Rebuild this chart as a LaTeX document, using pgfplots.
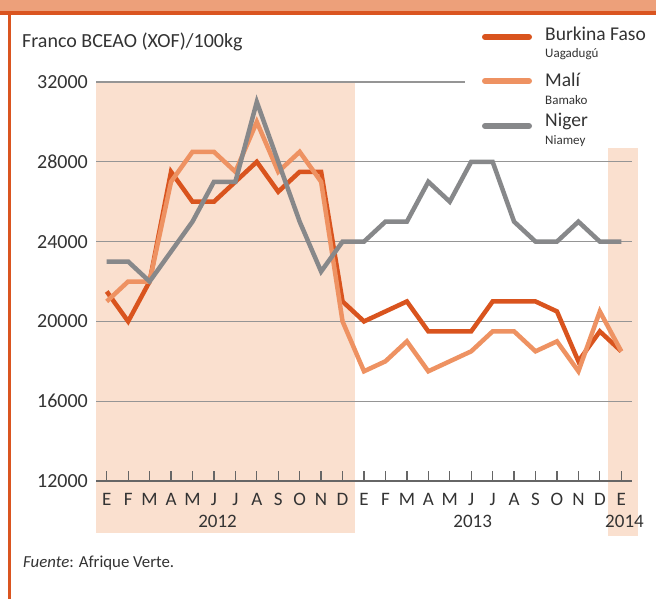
\documentclass[border=0pt]{standalone}
\usepackage{fontspec}
\setmainfont{Carlito}
\usepackage{pgfplots}
\pgfplotsset{compat=1.18}
\definecolor{bf}{HTML}{D9541E}
\definecolor{ml}{HTML}{EE9262}
\definecolor{ng}{HTML}{87888A}
\definecolor{peach}{HTML}{FAE0CF}
\definecolor{band}{HTML}{EDA07A}
\definecolor{bandline}{HTML}{DA5520}
\definecolor{txt}{HTML}{333333}
\definecolor{gridc}{HTML}{959595}
\definecolor{axc}{HTML}{666666}
\begin{document}
\begin{tikzpicture}
\useasboundingbox (0pt,0pt) rectangle (656pt,-599pt);
\fill[white] (0pt,0pt) rectangle (656pt,-599pt);
\fill[band] (0pt,0pt) rectangle (656pt,-11pt);
\fill[bandline] (0pt,-11pt) rectangle (656pt,-15.5pt);
\fill[bandline] (7.5pt,-11pt) rectangle (10.5pt,-599pt);
\begin{axis}[
  at={(96pt,-481pt)}, anchor=south west,
  scale only axis, width=536pt, height=399pt,
  xmin=-0.5, xmax=24.5, ymin=12000, ymax=32000,
  axis line style={draw=none},
  clip=false, axis on top,
  xtick={0,...,24},
  xticklabels={E,F,M,A,M,J,J,A,S,O,N,D,E,F,M,A,M,J,J,A,S,O,N,D,E},
  tick pos=left, tick align=inside, major tick length=10pt,
  xtick style={draw=axc, line width=1.3pt},
  ytick={12000,16000,20000,24000,28000,32000}, ytick style={draw=none},
  scaled y ticks=false,
  /pgf/number format/assume math mode=true, /pgf/number format/1000 sep={},
  yticklabel style={font=\fontsize{20}{20}\selectfont, text=txt, anchor=east, inner sep=0pt, xshift=-8pt},
  xticklabel style={font=\fontsize{19}{19}\selectfont, text=txt, anchor=base, inner sep=0pt, yshift=-24pt},
]
\fill[peach] (axis cs:-0.5,9390) rectangle (axis cs:11.58,32000);
\fill[peach] (axis cs:23.37,9250) rectangle (axis cs:24.8,32000);
\draw[gridc, line width=1.3pt] (axis cs:-0.5,16000) -- (axis cs:24.5,16000);
\draw[gridc, line width=1.3pt] (axis cs:-0.5,20000) -- (axis cs:24.5,20000);
\draw[gridc, line width=1.3pt] (axis cs:-0.5,24000) -- (axis cs:24.5,24000);
\draw[gridc, line width=1.3pt] (axis cs:-0.5,28000) -- (axis cs:24.5,28000);
\draw[gridc, line width=1.3pt] (axis cs:-0.5,32000) -- (axis cs:24.5,32000);
\draw[axc, line width=2pt] (axis cs:-0.5,12000) -- (axis cs:24.5,12000);
\addplot[bf, line width=4.5pt] coordinates {
(0,21500) (1,20000) (2,22000) (3,27500) (4,26000) (5,26000) (6,27000) (7,28000) (8,26500) (9,27500) (10,27500) (11,21000)
(12,20000) (13,20500) (14,21000) (15,19500) (16,19500) (17,19500) (18,21000) (19,21000) (20,21000) (21,20500) (22,18000) (23,19500) (24,18500)};
\addplot[ml, line width=4.5pt] coordinates {
(0,21000) (1,22000) (2,22000) (3,27000) (4,28500) (5,28500) (6,27500) (7,30000) (8,27500) (9,28500) (10,27000) (11,20000)
(12,17500) (13,18000) (14,19000) (15,17500) (16,18000) (17,18500) (18,19500) (19,19500) (20,18500) (21,19000) (22,17500) (23,20500) (24,18500)};
\addplot[ng, line width=4.5pt] coordinates {
(0,23000) (1,23000) (2,22000) (3,23500) (4,25000) (5,27000) (6,27000) (7,31000) (8,28000) (9,25000) (10,22500) (11,24000)
(12,24000) (13,25000) (14,25000) (15,27000) (16,26000) (17,28000) (18,28000) (19,25000) (20,24000) (21,24000) (22,25000) (23,24000) (24,24000)};
\node[anchor=base, inner sep=0pt, font=\fontsize{19}{19}\selectfont, text=txt] at (axis cs:5.17,9694) {2012};
\node[anchor=base, inner sep=0pt, font=\fontsize{19}{19}\selectfont, text=txt] at (axis cs:17.07,9694) {2013};
\node[anchor=base, inner sep=0pt, font=\fontsize{19}{19}\selectfont, text=txt] at (axis cs:24.15,9694) {2014};
\end{axis}
\fill[white] (465pt,-15.5pt) rectangle (637.7pt,-148pt);
\node[anchor=base west, inner sep=0pt, font=\fontsize{20}{20}\selectfont, text=txt] at (22pt,-48pt) {Franco BCEAO (XOF)/100kg};
\draw[bf, line width=6pt, line cap=round] (485pt,-37pt) -- (529pt,-37pt);
\draw[ml, line width=6pt, line cap=round] (485pt,-81pt) -- (529pt,-81pt);
\draw[ng, line width=6pt, line cap=round] (485pt,-126pt) -- (529pt,-126pt);
\node[anchor=base west, inner sep=0pt, font=\fontsize{19.5}{19.5}\selectfont, text=txt] at (545pt,-41pt) {Burkina Faso};
\node[anchor=base west, inner sep=0pt, font=\fontsize{13}{13}\selectfont, text=txt] at (545pt,-58pt) {Uagadugú};
\node[anchor=base west, inner sep=0pt, font=\fontsize{19.5}{19.5}\selectfont, text=txt] at (545pt,-87pt) {Malí};
\node[anchor=base west, inner sep=0pt, font=\fontsize{13}{13}\selectfont, text=txt] at (545pt,-105pt) {Bamako};
\node[anchor=base west, inner sep=0pt, font=\fontsize{19.5}{19.5}\selectfont, text=txt] at (545pt,-127pt) {Niger};
\node[anchor=base west, inner sep=0pt, font=\fontsize{13}{13}\selectfont, text=txt] at (545pt,-145pt) {Niamey};
\node[anchor=base west, inner sep=0pt, font=\fontsize{16.8}{16.8}\selectfont, text=txt] at (23pt,-567pt) {\textit{Fuente}: Afrique Verte.};
\end{tikzpicture}
\end{document}
